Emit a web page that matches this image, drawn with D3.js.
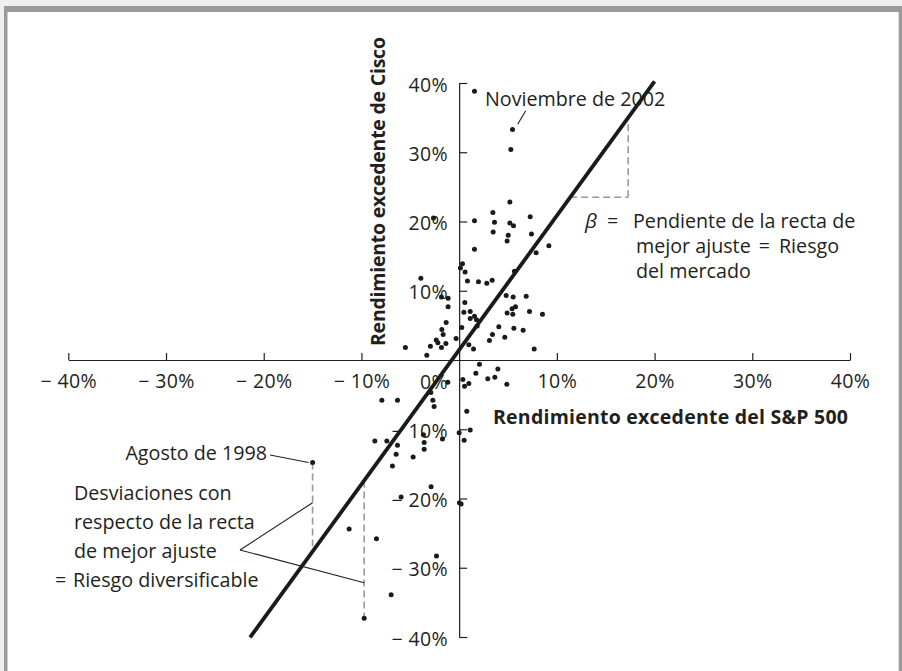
<!DOCTYPE html>
<html>
<head>
<meta charset="utf-8">
<script src="https://cdn.jsdelivr.net/npm/d3@7"></script>
<style>
  html, body { margin: 0; padding: 0; background: #efefef; }
  svg { display: block; }
  text { font-family: "Open Sans", "Noto Sans", sans-serif; fill: #231f20; }
</style>
</head>
<body>
<script>
// ---- Data (percent excess returns, monthly) ----
const sp500 = [1.57, 5.46, 5.29, 5.19, 1.57, 3.45, 3.62, 3.48, 5.19, 5.56, 5.02, 4.91, 7.27, 7.40, 9.18, 7.88,
  1.57, 0.34, 0.13, 0.61, -3.92, 0.85, 1.98, 2.83, 3.38, 5.66, -1.81, -1.13, -1.13, 0.58, 0.48, 1.13, 1.13, 1.57,
  1.77, 1.84, -1.33, -1.77, -1.64, -2.35, -2.18, -1.36, -1.81, -2.94, -3.31, -5.50, -0.31, 0.27, 0.99, 1.47, 3.10,
  3.41, 4.06, 4.67, 5.60, 6.55, 7.68, 4.81, 5.53, 6.86, 5.77, 5.42, 4.91, 5.49, 7.20, 8.53, -2.63,
  2.08, 1.71, 3.96, 2.93, 3.65, 4.88, 0.38, 0.99, 0.55, -1.16, -2.90, -2.69, -2.56, -7.91, -6.31, 0.78, 1.13, 0.51,
  0.00, -1.71, -3.65, -3.58, -3.58, -4.71, -6.31, -6.45, -6.83, -7.40, -8.63, -2.87, -5.94, 0.03, 0.20, -11.26,
  -8.46, -2.32, -6.96, -9.72, -15.0];
const cisco = [38.8, 33.3, 30.4, 22.8, 20.1, 21.3, 19.9, 18.5, 19.8, 19.4, 18.0, 17.2, 20.7, 18.2, 16.5, 15.5,
  16.0, 13.9, 13.3, 12.7, 11.8, 11.4, 11.3, 11.1, 11.5, 12.8, 9.1, 8.9, 7.7, 8.3, 6.9, 7.0, 6.0, 6.3,
  5.8, 4.9, 5.4, 4.4, 3.7, 2.9, 2.5, 2.4, 1.8, 2.0, 0.7, 1.8, 3.1, 4.7, 2.2, 1.6, 2.8,
  3.7, 4.8, 3.3, 4.6, 4.3, 1.6, 9.3, 9.1, 9.2, 7.7, 7.4, 6.8, 6.6, 7.0, 6.6, 20.5,
  -0.6, -1.9, -1.3, -2.7, -2.5, -3.5, -2.8, -3.4, -3.8, -3.2, -4.7, -5.8, -6.7, -5.8, -5.8, -7.4, -10.1, -11.6,
  -10.5, -11.4, -10.8, -11.9, -12.9, -14.0, -12.3, -13.6, -15.3, -11.7, -11.7, -18.3, -19.8, -20.6, -20.8, -24.4,
  -25.8, -28.3, -33.9, -37.3, -14.8];

// axis ticks
const xTicks = [-40, -30, -20, -10, 10, 20, 30, 40];
const yTicks = [-40, -30, -20, -10, 10, 20, 30, 40];

// best-fit line: cisco = beta * sp500 + alpha
const beta = 1.94;
const alpha = 1.45;
const fitRange = [-21.4, 20.0];

// annotated months
const nov2002 = [5.46, 33.3];
const aug1998 = [-15.0, -14.8];
const otherDev = [-9.72, -37.3];
// beta triangle: run from line to this x at this y
const betaTriY = 23.5;
const betaTriX = 17.3;

// ---- Drawing ----
const W = 902, H = 671;
const svg = d3.select("body").append("svg").attr("width", W).attr("height", H);

// frame
svg.append("rect").attr("x", 0).attr("y", 0).attr("width", W).attr("height", H).attr("fill", "#efefef");
svg.append("rect").attr("x", 4).attr("y", 6).attr("width", W - 4).attr("height", H - 6).attr("fill", "#9b9b9b");
svg.append("rect").attr("x", 7.5).attr("y", 12).attr("width", 891.2).attr("height", H - 12).attr("fill", "#ffffff");

const x = d3.scaleLinear().domain([-40, 40]).range([68.3, 850]);
const y = d3.scaleLinear().domain([-40, 40]).range([637, 83]);
const fit = v => beta * v + alpha;
const pct = d => (d < 0 ? "\u2212 " : "") + Math.abs(d) + "%";
const tickFs = 19.5;

// x axis
const gx = svg.append("g").attr("transform", `translate(0,${y(0)})`)
  .call(d3.axisBottom(x).tickValues(xTicks).tickSizeInner(-7).tickSizeOuter(0).tickPadding(15).tickFormat(pct));
gx.selectAll("path, line").attr("stroke", "#231f20").attr("stroke-width", 1.2);
gx.selectAll("text").attr("font-size", tickFs).attr("font-family", null).attr("fill", "#231f20")
  .attr("letter-spacing", 0.4).attr("dy", "0.68em");

// y axis
const gy = svg.append("g").attr("transform", `translate(${x(0)},0)`)
  .call(d3.axisLeft(y).tickValues(yTicks).tickSizeInner(-8).tickSizeOuter(0).tickPadding(11).tickFormat(pct));
gy.selectAll("path, line").attr("stroke", "#231f20").attr("stroke-width", 1.2);
gy.selectAll("text").attr("font-size", tickFs).attr("font-family", null).attr("fill", "#231f20")
  .attr("letter-spacing", 0.4).attr("dy", "0.42em");

// origin label
svg.append("text").attr("x", x(0) - 11).attr("y", 389).attr("text-anchor", "end")
  .attr("font-size", tickFs).attr("letter-spacing", 0.4).text("0%");

// axis titles
svg.append("text").attr("x", 493).attr("y", 424).attr("font-size", 19.5).attr("font-weight", 700)
  .attr("textLength", 355).attr("lengthAdjust", "spacing")
  .text("Rendimiento excedente del S&P 500");
svg.append("text").attr("transform", "translate(385,346) rotate(-90)").attr("font-size", 19.5).attr("font-weight", 700)
  .attr("textLength", 309).attr("lengthAdjust", "spacing")
  .text("Rendimiento excedente de Cisco");

// dashed deviation / beta lines
const dash = { stroke: "#9a9a9a", "stroke-width": 1.6, "stroke-dasharray": "7,4", fill: "none" };
function dashed(x1, y1, x2, y2) {
  const l = svg.append("line").attr("x1", x(x1)).attr("y1", y(y1)).attr("x2", x(x2)).attr("y2", y(y2));
  Object.entries(dash).forEach(([k, v]) => l.attr(k, v));
}
dashed(aug1998[0], aug1998[1], aug1998[0], fit(aug1998[0]));
dashed(otherDev[0], fit(otherDev[0]), otherDev[0], otherDev[1]);
dashed((betaTriY - alpha) / beta, betaTriY, betaTriX, betaTriY);
dashed(betaTriX, betaTriY, betaTriX, fit(betaTriX));

// points
svg.append("g").selectAll("circle").data(sp500.map((d, i) => [d, cisco[i]])).join("circle")
  .attr("cx", d => x(d[0])).attr("cy", d => y(d[1])).attr("r", 2.5).attr("fill", "#1a1a1a");

// best-fit line
svg.append("line").attr("x1", x(fitRange[0])).attr("y1", y(fit(fitRange[0])))
  .attr("x2", x(fitRange[1])).attr("y2", y(fit(fitRange[1])))
  .attr("stroke", "#1a1a1a").attr("stroke-width", 3.8);

// leader lines
function thin(x1, y1, x2, y2) {
  svg.append("line").attr("x1", x1).attr("y1", y1).attr("x2", x2).attr("y2", y2)
    .attr("stroke", "#231f20").attr("stroke-width", 1.1);
}
thin(525.7, 110.7, 517.7, 124.3);
thin(270, 455, x(aug1998[0]) - 4, y(aug1998[1]));
thin(240, 550, x(aug1998[0]), 502.7);
thin(240, 550, x(otherDev[0]), 582.7);

// annotation text
const fs = 19.7;
function txt(t, xp, yp, anchor) {
  return svg.append("text").attr("x", xp).attr("y", yp).attr("font-size", fs)
    .attr("text-anchor", anchor || "start").text(t);
}
txt("Noviembre de 2002", 485, 106);
txt("Agosto de 1998", 267, 460, "end");

svg.append("text").attr("x", 585).attr("y", 228).attr("font-size", fs + 1).attr("font-style", "italic")
  .attr("font-family", "'DejaVu Serif', serif").text("\u03b2");
txt("=", 607, 228);
txt("Pendiente de la recta de", 633, 228);
const mj = txt("mejor ajuste", 636, 253);
const mjEnd = 636 + mj.node().getComputedTextLength();
const eq = txt("=", mjEnd + 8, 253);
txt("Riesgo", mjEnd + 8 + eq.node().getComputedTextLength() + 9, 253);
txt("del mercado", 636, 278);

const devLines = ["Desviaciones con", "respecto de la recta", "de mejor ajuste"];
devLines.forEach((t, i) => txt(t, 74, 500 + i * 29));
txt("=", 55, 587);
txt("Riesgo diversificable", 73, 587);
</script>
</body>
</html>
